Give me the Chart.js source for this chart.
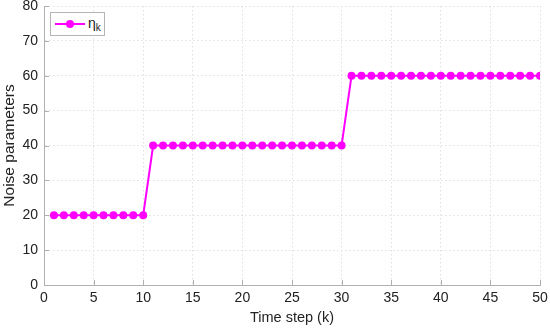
<!DOCTYPE html>
<html lang="en">
<head>
    <meta charset="UTF-8">
    <title>Noise parameters</title>
    <script src="https://cdn.jsdelivr.net/npm/chart.js"></script>
    <style>
        html, body { margin: 0; padding: 0; background: #fff; }
        .wrap { position: relative; width: 550px; height: 331px; }
        .legend {
            position: absolute; left: 50px; top: 12px; width: 55px; height: 24px;
            border: 1px solid #b4b4b4; background: #fff; box-sizing: border-box;
            font-family: "Liberation Sans", Arial, sans-serif; font-size: 14px; color: #222;
        }
        .legend .ln { position: absolute; left: 4px; top: 10px; width: 30px; height: 2px; background: #ff00ff; }
        .legend .dot { position: absolute; left: 15px; top: 7px; width: 8px; height: 8px; border-radius: 50%; background: #ff00ff; }
        .legend .txt { position: absolute; left: 37px; top: 2px; line-height: 16px; }
        .legend sub { font-size: 10px; vertical-align: -3px; line-height: 0; }
    </style>
</head>
<body>
<div class="wrap">
    <canvas id="noiseChart" width="550" height="331"></canvas>
    <div class="legend"><span class="ln"></span><span class="dot"></span><span class="txt">&eta;<sub>k</sub></span></div>
</div>

<script>
    // time steps and noise level per step
    const steps = [1,2,3,4,5,6,7,8,9,10,11,12,13,14,15,16,17,18,19,20,21,22,23,24,25,
                   26,27,28,29,30,31,32,33,34,35,36,37,38,39,40,41,42,43,44,45,46,47,48,49,50];
    const eta = [20,20,20,20,20,20,20,20,20,20,
                 40,40,40,40,40,40,40,40,40,40,40,40,40,40,40,40,40,40,40,40,
                 60,60,60,60,60,60,60,60,60,60,60,60,60,60,60,60,60,60,60,60];
    const xTicks = [0,5,10,15,20,25,30,35,40,45,50];
    const yTicks = [0,10,20,30,40,50,60,70,80];

    const axisColor = '#b0b0b0';
    const gridColor = '#e0e0e0';
    const font = { family: '"Liberation Sans", Arial, sans-serif', size: 14 };

    // MATLAB style ticks pointing into the plot
    const innerTicks = {
        id: 'innerTicks',
        afterDraw(chart) {
            const { ctx, chartArea, scales } = chart;
            ctx.save();
            ctx.strokeStyle = axisColor;
            ctx.lineWidth = 1;
            ctx.beginPath();
            xTicks.forEach(v => {
                const px = Math.round(scales.x.getPixelForValue(v)) + 0.5;
                ctx.moveTo(px, chartArea.bottom);
                ctx.lineTo(px, chartArea.bottom - 5);
            });
            yTicks.forEach(v => {
                const py = Math.round(scales.y.getPixelForValue(v)) + 0.5;
                ctx.moveTo(chartArea.left, py);
                ctx.lineTo(chartArea.left + 5, py);
            });
            ctx.stroke();
            ctx.restore();
        }
    };

    new Chart(document.getElementById('noiseChart'), {
        type: 'line',
        data: {
            datasets: [{
                label: 'eta_k',
                data: steps.map((k, i) => ({ x: k, y: eta[i] })),
                borderColor: '#ff00ff',
                backgroundColor: '#ff00ff',
                borderWidth: 2,
                pointRadius: 4,
                pointBorderWidth: 0,
                tension: 0
            }]
        },
        options: {
            responsive: false,
            animation: false,
            layout: { padding: { left: 0, right: 10, top: 6, bottom: 0 } },
            plugins: { legend: { display: false }, tooltip: { enabled: false } },
            scales: {
                x: {
                    type: 'linear', min: 0, max: 50,
                    afterBuildTicks: s => { s.ticks = xTicks.map(v => ({ value: v })); },
                    afterFit: s => { s.height = 46; s.paddingRight = 0; s.paddingLeft = 0; },
                    grid: { color: gridColor, drawTicks: false },
                    border: { color: axisColor, dash: [1.5, 2.5] },
                    ticks: { color: '#222', font: font, padding: 5 },
                    title: { display: true, text: 'Time step (k)', color: '#222',
                             font: { family: font.family, size: 14.5 }, padding: { top: 1 } }
                },
                y: {
                    min: 0, max: 80,
                    afterBuildTicks: s => { s.ticks = yTicks.map(v => ({ value: v })); },
                    afterFit: s => { s.width = 44; s.paddingTop = 0; s.paddingBottom = 0; },
                    grid: { color: gridColor, drawTicks: false },
                    border: { color: axisColor, dash: [1.5, 2.5] },
                    ticks: { color: '#222', font: font, padding: 6 },
                    title: { display: true, text: 'Noise parameters', color: '#222',
                             font: { family: font.family, size: 15.5 }, padding: { top: 0, bottom: 1 } }
                }
            }
        },
        plugins: [innerTicks]
    });
</script>
</body>
</html>
